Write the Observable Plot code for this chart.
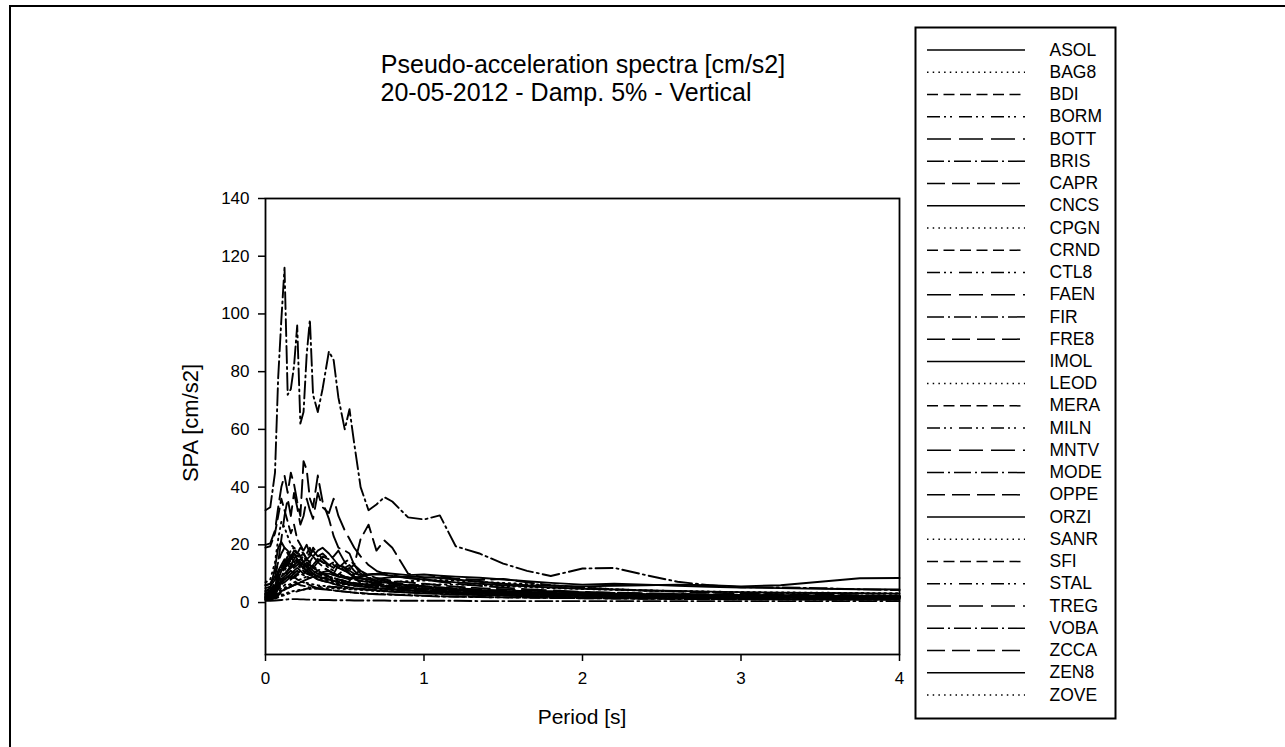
<!DOCTYPE html>
<html>
<head>
<meta charset="utf-8">
<script src="https://cdn.jsdelivr.net/npm/d3@7"></script>
<script src="https://cdn.jsdelivr.net/npm/@observablehq/plot@0.6"></script>
<style>
  html, body { margin: 0; padding: 0; background: #fff; }
  #wrap { position: relative; width: 1285px; height: 747px; overflow: hidden; font-family: "Liberation Sans", Arial, sans-serif; color: #000; }
  .frame { position: absolute; left: 9px; top: 5px; width: 1300px; height: 800px; border-top: 2px solid #000; border-left: 2px solid #000; }
  .t { position: absolute; white-space: nowrap; transform: translate(-50%, -50%); }
  #chart, #legend { position: absolute; }
</style>
</head>
<body>
<div id="wrap">
  <div class="frame"></div>
  <div class="t" style="left:583px; top:64px; font-size:25px;">Pseudo-acceleration spectra [cm/s2]</div>
  <div class="t" style="left:566px; top:92px; font-size:25px;">20-05-2012 - Damp. 5% - Vertical</div>
  <div class="t" style="left:191px; top:423px; font-size:22px; transform: translate(-50%, -50%) rotate(-90deg);">SPA [cm/s2]</div>
  <div class="t" style="left:582px; top:717px; font-size:21px;">Period [s]</div>
  <div id="chart" style="left:0; top:0;"></div>
  <div id="legend" style="left:915px; top:27px;"></div>
</div>
<script>
// Periods [s]
const periods = [0, 0.03, 0.06, 0.08, 0.1, 0.12, 0.14, 0.16, 0.18, 0.2, 0.22, 0.24, 0.26, 0.28, 0.3, 0.33, 0.36, 0.4, 0.43, 0.46, 0.5, 0.53, 0.56, 0.6, 0.65, 0.7, 0.75, 0.8, 0.9, 1.0, 1.1, 1.2, 1.35, 1.5, 1.65, 1.8, 2.0, 2.2, 2.4, 2.6, 2.8, 3.0, 3.25, 3.5, 3.75, 4.0];

const stations = ["ASOL","BAG8","BDI","BORM","BOTT","BRIS","CAPR","CNCS","CPGN","CRND","CTL8","FAEN","FIR","FRE8","IMOL","LEOD","MERA","MILN","MNTV","MODE","OPPE","ORZI","SANR","SFI","STAL","TREG","VOBA","ZCCA","ZEN8","ZOVE"];

const xTicks = [0, 1, 2, 3, 4];
const yTicks = [0, 20, 40, 60, 80, 100, 120, 140];

// SPA values [cm/s2], one array per station, aligned with periods
const ASOL = [4,5,12,19,21, 19,18,16,17,15, 13,12,11,10,9, 8,7.5,7,6.5,6, 5.5,5.2,5,4.8,4.5, 4.2,4,3.8,3.5,3.2, 3,2.8,2.6,2.4,2.2, 2,1.8,1.7,1.6,1.5, 1.4,1.3,1.2,1.2,1.1, 1.1];
const BAG8 = [7,8,14,22,28, 26,23,20,19,17, 15,16,14,12,11, 10,9,8.5,8,7.5, 7,6.8,6.5,6.2,6, 5.8,5.6,5.4,5,4.7, 4.4,4.2,3.9,3.6,3.3, 3,2.7,2.5,2.3,2.2, 2.1,2,1.9,1.8,1.7, 1.6];
const BDI  = [19,19.5,24,30,36, 32,28,24,27,22, 20,18,17,19,16, 14,12.5,11,10,9.5, 9,8.5,8,7.5,7, 6.5,6.2,6,5.5,5, 4.6,4.3,4,3.7,3.4, 3.2,2.9,2.7,2.5,2.4, 2.3,2.2,2.1,2,1.9, 1.8];
const BORM = [3,3.5,6,9,12, 14,16,18,19,18, 16,17,15,14,12, 11,10,9,8.5,8, 7.5,7,6.5,6,5.5, 5,4.8,4.6,4.2,3.9, 3.6,3.4,3.1,2.9,2.7, 2.5,2.3,2.1,2,1.9, 1.8,1.7,1.6,1.5,1.5, 1.4];
const BOTT = [3,3.2,4.5,6,8, 10,11,12,13,14, 15,14,16,17,18, 16,17,15,16,18, 14,12,13,10,8.5, 8,7.5,7,6.2,5.6, 5,4.6,4.2,3.8,3.5, 3.2,2.9,2.7,2.5,2.3, 2.2,2.1,2,1.9,1.8, 1.7];
const BRIS = [2,2.2,3.5,5,7, 8,9,8.5,9,8, 7.5,7,6.5,6,5.5, 5,4.8,4.5,4.2,4, 3.8,3.6,3.5,3.3,3.1, 3,2.9,2.8,2.6,2.4, 2.2,2.1,1.9,1.8,1.7, 1.6,1.5,1.4,1.3,1.2, 1.2,1.1,1.1,1,1, 1];
const CAPR = [20,20.5,25,33,40, 44,38,45,41,35, 30,49,46,36,33, 44,35,29,23,19, 18,17,13,22,27, 18,21.5,19,10,8.5, 9,8.3,7.8,8.2,7, 6,5.2,4.6,4.2,3.8, 3.4,3.1,2.9,2.7,2.5, 2.4];
const CNCS = [5,5.5,8,11,13, 15,14,16,18,17, 19,18,20,17,16, 18,19,17,15,13, 12,11,10,9.5,9.8, 10,10.3,10,9.5,9.7, 9.3,9,8.6,8,7.4, 6.8,6.2,6.5,6.2,5.8, 5.5,5.2,5,4.8,4.6, 4.5];
const CPGN = [2.5,2.8,4,6,9, 11,13,12,14,13, 12,11,10,11,10, 9,8.5,8,7.5,7.2, 7,6.8,6.6,6.4,6.5, 6.8,7,7.2,7.4,7.6, 7.8,7.6,7.2,6.8,6.4, 6,5.2,4.6,4.2,4, 3.8,3.6,3.5,3.4,3.3, 3.2];
const CRND = [6,6.5,10,14,17, 19,17,15,16,14, 13,12,11,12,13, 11,10,9,8.5,8, 7.5,7,6.5,6.2,6, 5.8,5.5,5.3,5,4.7, 4.4,4.1,3.8,3.5,3.2, 3,2.8,2.6,2.4,2.3, 2.2,2.1,2,1.9,1.8, 1.8];
const CTL8 = [1.5,1.7,2.5,3.5,5, 6,7,8,9,10, 11,12,13,14,13, 15,14,12,11,10, 9,8.5,8,7.5,7, 6.5,6,5.7,5.2,4.8, 4.4,4,3.6,3.3,3, 2.8,2.6,2.4,2.2,2.1, 2,1.9,1.8,1.8,1.7, 1.7];
const FAEN = [6,6.5,9,14,22, 30,36,30,38,33, 27,30,36,32,29, 38,33,31,36,30, 25,22,19,16,13, 11,10,9.5,8.5,8, 7.2,6.5,5.8,5.2,4.6, 4.2,3.7,3.4,3.2,3, 2.8,2.6,2.5,2.4,2.3, 2.2];
const FIR  = [1.2,1.3,1.8,2.5,3.5, 4.5,5,5.5,6,6.5, 6,5.8,5.5,5.2,5, 4.8,4.6,4.4,4.2,4, 3.8,3.6,3.4,3.2,3, 2.9,2.8,2.7,2.5,2.3, 2.1,2,1.9,1.8,1.7, 1.6,1.5,1.4,1.3,1.3, 1.2,1.2,1.1,1.1,1, 1];
const FRE8 = [3,3.3,5,7,9, 10,11,12,13,12, 13,14,15,14,16, 15,14,13,14,12, 11,10,9,8.5,8, 7.6,7.2,6.8,6.2,5.7, 5.2,4.8,4.3,3.9,3.6, 3.3,3,2.8,2.6,2.4, 2.3,2.2,2.1,2,1.9, 1.9];
const IMOL = [2,2.2,3.5,5,7, 8,9,10,11,12, 11,10,11,12,11, 10,10.5,11,10,9, 8.5,8,8.5,9,9.5, 9.8,9.6,9.2,8.5,8, 7.5,7,6.5,6,5.6, 5.2,4.8,4.5,4.2,4, 3.8,3.6,3.4,3.3,3.2, 3.1];
const LEOD = [1,1.1,1.5,2,2.6, 3,3.4,3.8,4,4.2, 4.4,4.5,4.6,4.7,4.8, 4.9,5,5,4.9,4.8, 4.7,4.6,4.5,4.4,4.2, 4,3.9,3.8,3.6,3.4, 3.2,3.1,2.9,2.7,2.6, 2.5,2.3,2.2,2.1,2, 1.9,1.8,1.8,1.7,1.7, 1.6];
const MERA = [4,4.3,7,10,12, 13,15,14,12,13, 14,12,11,10,9.5, 9,8.5,9,10,13, 11,12,9,6.6,6.2, 5.8,5.5,5.2,4.8,4.4, 4.1,3.8,3.5,3.2,3, 2.8,2.6,2.4,2.3,2.2, 2.1,2,1.9,1.8,1.8, 1.7];
const MILN = [1.8,2,3,4.5,6, 7.5,8.5,9,10,11, 10,9.5,9,8.5,9, 8,7.5,7,6.5,6.2, 6,7.5,10,11,9, 7,5.8,5.2,4.3,4, 3.7,3.5,3.2,3,2.8, 2.6,2.4,2.3,2.2,2.1, 2,1.9,1.9,1.8,1.8, 1.7];
const MNTV = [3.5,3.8,6,9,11, 12,13,15,17,16, 18,17,15,16,19, 17,15,13,12,14, 12,10,9,8.5,8, 7.5,7,6.5,6,5.5, 5,4.7,4.3,4,3.7, 3.4,3.1,2.9,2.7,2.5, 2.4,2.3,2.2,2.1,2, 2];
const MODE = [32,33,45,78,98, 116,72,74,82,96, 62,66,86,98,72, 66,74,87,84,71, 60,67,55,40,32, 34,36.5,35,29.5,28.8, 30.2,19.5,17,13.5,11, 9.2,11.8,12,9.5,7.2, 6,5.3,5.2,5,4.6, 4.3];
const OPPE = [2.5,2.7,4,6,8, 9,10,11,10,12, 13,12,14,13,12, 14,16,15,13,12, 14,15,13,11,9.5, 8.5,8,7.5,7,6.5, 6,5.5,5,4.6,4.2, 3.9,3.6,3.3,3.1,2.9, 2.7,2.6,2.5,2.4,2.3, 2.2];
const ORZI = [1.5,1.6,2.2,3,4, 4.5,5,5.5,6,6.5, 7,7.5,8,8.5,9, 9.5,9.8,10,9.5,9, 8.8,8.6,8.4,8.2,8, 8.2,8.5,8.8,9,8.8, 8.5,8,7.2,6.5,6, 5.8,5.6,5.8,6,6.2, 6,5.6,6,7.2,8.4, 8.5];
const SANR = [1.2,1.3,2,3,4, 5,6,6.5,7,7.5, 8,8.5,9,8.5,9, 8.5,8,7.5,7,6.5, 6.2,6,5.8,5.6,5.5, 5.5,5.6,5.8,6,6.2, 6.3,6.2,6,5.7,5.4, 5,4.7,4.4,4.1,3.9, 3.7,3.5,3.3,3.2,3.1, 3];
const SFI  = [2.2,2.4,3.5,5,7, 9,11,13,14,15, 14,13,12,13,12, 11,10,9,8.5,8, 7.5,7,6.8,6.5,6.2, 6,5.8,5.6,5.2,4.9, 4.6,4.3,4,3.7,3.5, 3.3,3.1,2.9,2.8,2.7, 2.6,2.5,2.4,2.3,2.2, 2.1];
const STAL = [1,1.1,1.4,1.8,2.2, 2.6,3,3.3,3.6,3.9, 4.2,4.5,4.8,5,5.2, 5.4,5.5,5.5,5.4,5.3, 5.2,5,4.8,4.6,4.4, 4.2,4,3.8,3.5,3.3, 3.1,2.9,2.7,2.5,2.4, 2.3,2.2,2.1,2,1.9, 1.8,1.8,1.7,1.7,1.6, 1.6];
const TREG = [2.8,3,4.5,7,10, 12,14,13,15,17, 16,14,12,11,10, 9,8.5,8,7.5,7, 6.5,6.2,6,5.7,5.4, 5.1,4.8,4.6,4.2,3.9, 3.6,3.4,3.1,2.9,2.7, 2.5,2.3,2.1,2,1.9, 1.8,1.7,1.7,1.6,1.6, 1.5];
const VOBA = [0.6,0.6,0.7,0.8,0.9, 1,1.1,1.2,1.2,1.2, 1.1,1.1,1,1,1, 0.9,0.9,0.9,0.8,0.8, 0.8,0.8,0.7,0.7,0.7, 0.7,0.7,0.6,0.6,0.6, 0.6,0.6,0.5,0.5,0.5, 0.5,0.5,0.5,0.5,0.5, 0.5,0.5,0.5,0.5,0.5, 0.5];
const ZCCA = [1.8,2,3,4.5,6, 7,8,9,8.5,9.5, 10,11,10,9.5,10, 11,12,11,10,9.5, 12,13,11,9,7.2, 7,6.8,6.5,6,5.6, 5.2,4.9,4.5,4.2,3.9, 3.6,3.3,3.1,2.9,2.8, 2.7,2.6,2.5,2.4,2.3, 2.2];
const ZEN8 = [3,3.2,5,8,11, 13,15,16,14,15, 13,12,13,11,10, 9,8.5,8,7.5,7, 6.6,6.2,5.9,5.6,5.3, 5,4.8,4.6,4.3,4, 3.8,3.6,3.4,3.2,3, 2.9,2.8,2.7,2.6,2.5, 2.4,2.3,2.3,2.2,2.2, 2.1];
const ZOVE = [1.5,1.6,2.2,3,4, 4.8,5.5,6,6.5,7, 7.2,7,6.8,6.5,6.3, 6,5.8,5.6,5.4,5.2, 5,4.9,4.8,4.7,4.6, 4.5,4.4,4.3,4.1,3.9, 3.7,3.5,3.3,3.1,3, 2.9,2.8,2.7,2.6,2.5, 2.5,2.4,2.4,2.3,2.3, 2.2];

const seriesValues = [ASOL,BAG8,BDI,BORM,BOTT,BRIS,CAPR,CNCS,CPGN,CRND,CTL8,FAEN,FIR,FRE8,IMOL,LEOD,MERA,MILN,MNTV,MODE,OPPE,ORZI,SANR,SFI,STAL,TREG,VOBA,ZCCA,ZEN8,ZOVE];

// line styles cycle (solid, dotted, short dash, dash-dot-dot, long dash, dash-dot, medium dash)
const dashCycle = [null, "1.5,4.2", "11,5.5", "13,4,2,4,2,7", "24,8", "17,4,2,4", "18,7"];

const font = '"Liberation Sans", Arial, sans-serif';

const rows = stations.map((s, k) => ({
  station: s,
  dash: dashCycle[k % dashCycle.length],
  data: periods.map((p, i) => ({period: p, spa: seriesValues[k][i]}))
}));

const chart = Plot.plot({
  width: 910,
  height: 747,
  marginLeft: 265,
  marginRight: 11,
  marginTop: 198,
  marginBottom: 93,
  style: {fontFamily: font, fontSize: "17px", color: "#000", background: "transparent", overflow: "visible"},
  x: {domain: [0, 4]},
  y: {domain: [-18, 140]},
  marks: [
    ...rows.map(r => Plot.line(r.data, {x: "period", y: "spa", stroke: "#000", strokeWidth: 1.9, strokeDasharray: r.dash || undefined})),
    Plot.frame({stroke: "#000", strokeWidth: 1.8}),
    Plot.axisX({ticks: xTicks, tickSize: 7, tickPadding: 10, label: null, fontSize: 17, tickFormat: d => String(d), stroke: "#000", strokeWidth: 1.5}),
    Plot.axisY({ticks: yTicks, tickSize: 7, tickPadding: 9, label: null, fontSize: 17, tickFormat: d => String(d), stroke: "#000", strokeWidth: 1.5})
  ]
});
document.getElementById("chart").appendChild(chart);

const legend = Plot.plot({
  width: 200,
  height: 691,
  margin: 0,
  style: {fontFamily: font, fontSize: "17.5px", color: "#000", background: "#fff", overflow: "visible"},
  x: {domain: [0, 200], range: [0, 200], axis: null},
  y: {type: "point", domain: stations, range: [22.5, 667.5], padding: 0, round: false, axis: null},
  marks: [
    ...rows.map(r => Plot.ruleY([r.station], {y: d => d, x1: 12, x2: 110, stroke: "#000", strokeWidth: 1.5, strokeDasharray: r.dash || undefined})),
    Plot.text(stations, {x: 134, y: d => d, text: d => d, textAnchor: "start", fontSize: 17.5, fill: "#000"}),
    Plot.frame({stroke: "#000", strokeWidth: 2})
  ]
});
document.getElementById("legend").appendChild(legend);
</script>
</body>
</html>
